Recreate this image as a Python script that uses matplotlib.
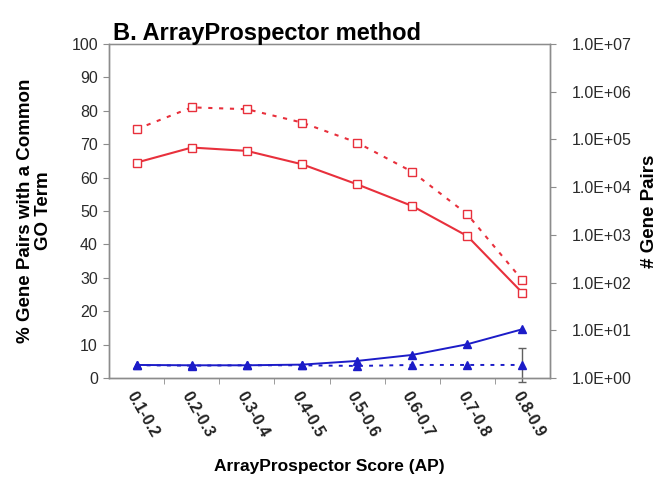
import numpy as np
import matplotlib.pyplot as plt

plt.rcParams['font.family'] = ['Liberation Sans', 'DejaVu Sans']

# data
score_bins = ['0.1-0.2', '0.2-0.3', '0.3-0.4', '0.4-0.5', '0.5-0.6', '0.6-0.7', '0.7-0.8', '0.8-0.9']
pct_common_go = [64.5, 69.0, 68.0, 64.0, 58.0, 51.5, 42.5, 25.5]
n_gene_pairs = [1.64e5, 4.7e5, 4.3e5, 2.26e5, 8.6e4, 2.1e4, 2.7e3, 1.12e2]
pct_common_other = [3.9, 3.8, 3.8, 4.0, 5.1, 6.9, 10.1, 14.6]
pct_random = [3.8, 3.7, 3.8, 3.8, 3.6, 3.9, 3.9, 3.9]
random_err = [0, 0, 0, 0, 0, 0, 0, 5.0]

red = '#e8303c'
blue = '#1c1cc8'
axcol = '#8c8c8c'

x = np.arange(len(score_bins))

fig = plt.figure(figsize=(6.66, 4.79), dpi=100)
ax = fig.add_axes([0.1637, 0.2109, 0.6621, 0.6972])
ax2 = ax.twinx()

ax.plot(x, pct_common_go, '-', color=red, lw=1.5, marker='s', ms=6,
        mfc='white', mec=red, mew=1.0, zorder=3)
ax2.plot(x, n_gene_pairs, color=red, lw=1.5, ls=(0, (2, 3.2)), marker='s', ms=6,
         mfc='white', mec=red, mew=1.0, zorder=3)
ax.plot(x, pct_common_other, '-', color=blue, lw=1.4, marker='^', ms=5.5,
        mfc=blue, mec=blue, zorder=4)
ax.plot(x, pct_random, color=blue, lw=1.4, ls=(0, (2, 3.2)), marker='^', ms=5.5,
        mfc=blue, mec=blue, zorder=4)
err = np.array(random_err)
idx = np.nonzero(err)[0]
ax.errorbar(x[idx], np.array(pct_random)[idx], yerr=err[idx], fmt='none',
            ecolor='#606060', elinewidth=1.0, capsize=3, capthick=1.0,
            clip_on=False, zorder=2)

ax.set_xlim(-0.5, 7.5)
ax.set_ylim(0, 100)
ax.set_yticks(np.arange(0, 101, 10))
ax2.set_yscale('log')
ax2.set_ylim(1, 1e7)
ax2.set_yticks([10.0 ** k for k in range(8)])
ax2.set_yticklabels(['1.0E+0%d' % k for k in range(8)])
ax2.minorticks_off()

ax.set_xticks(x)
ax.set_xticklabels(score_bins, rotation=-60, ha='left', va='top',
                   rotation_mode='anchor', fontsize=11.5, fontweight='bold', color='#222222')
ax.set_xticks(x[:-1] + 0.5, minor=True)
ax.tick_params(axis='x', which='major', length=0, pad=8)
ax.tick_params(axis='x', which='minor', length=4, color=axcol)
ax.tick_params(axis='y', length=4, color=axcol, labelsize=11.5, labelcolor='#2a2a2a', pad=4)
ax2.tick_params(axis='y', length=4, color=axcol, labelsize=11.5, labelcolor='#2a2a2a', pad=12)

for a in (ax, ax2):
    for s in a.spines.values():
        s.set_color(axcol)
        s.set_linewidth(1.0)
ax.spines['top'].set_color('#c8c8c8')

ax.set_ylabel('% Gene Pairs with a Common\nGO Term', fontsize=13.5, fontweight='bold',
              labelpad=14, linespacing=1.1)
ax2.set_ylabel('# Gene Pairs', fontsize=13.5, fontweight='bold', rotation=90, labelpad=6)
ax.set_xlabel('ArrayProspector Score (AP)', fontsize=12.5, fontweight='bold', labelpad=14)

fig.text(113 / 666, 1 - 40 / 479, 'B. ArrayProspector method', fontsize=17,
         fontweight='bold', ha='left', va='baseline')

fig.savefig('out.png', dpi=100)
